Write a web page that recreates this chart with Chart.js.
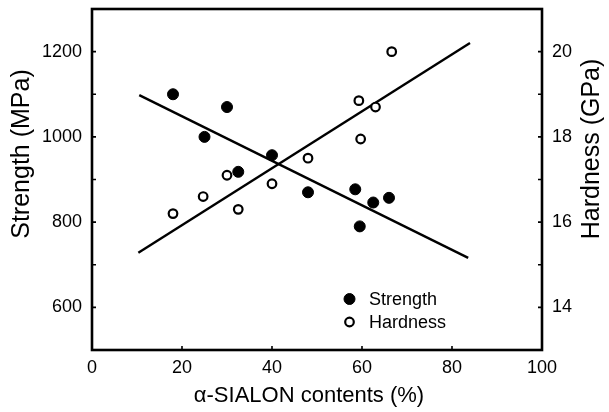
<!DOCTYPE html>
<html>
<head>
<meta charset="utf-8">
<script src="https://cdn.jsdelivr.net/npm/chart.js@4.4.1/dist/chart.umd.min.js"></script>
<style>
  html, body { margin: 0; padding: 0; background: #fff; }
  #wrap { width: 609px; height: 412px; }
</style>
</head>
<body>
<div id="wrap"><canvas id="c" width="609" height="412"></canvas></div>
<script>
// α-SIALON content (%) and measured properties
const strengthX = [18, 25, 30, 32.5, 40, 48, 58.5, 59.5, 62.5, 66];
const strengthY = [1100, 1000, 1070, 918, 957, 870, 877, 790, 846, 857];
const hardnessX = [18, 24.7, 30, 32.5, 40, 48, 59.3, 59.7, 63, 66.6];
const hardnessY = [16.2, 16.6, 17.1, 16.3, 16.9, 17.5, 18.85, 17.95, 18.7, 20.0];

// linear trend lines (end points)
const strengthFitX = [10.5, 83.6];
const strengthFitY = [1098, 716];
const hardnessFitX = [10.3, 84];
const hardnessFitY = [15.28, 20.2];

// axis ticks
const xTicks = [0, 20, 40, 60, 80, 100];
const strengthTicks = [600, 800, 1000, 1200];
const hardnessTicks = [14, 16, 18, 20];
const strengthMinorTicks = [600, 700, 800, 900, 1000, 1100, 1200];
const hardnessMinorTicks = [14, 15, 16, 17, 18, 19, 20];
const xInnerTicks = [20, 40, 60, 80];

const xTitle = 'α-SIALON contents (%)';
const yTitle = 'Strength (MPa)';
const y1Title = 'Hardness (GPa)';

const FONT = '"Liberation Sans", Arial, Helvetica, sans-serif';

const pts = (xs, ys) => xs.map((x, i) => ({ x, y: ys[i] }));
const plain = v => String(v);

// frame, inward tick marks, axis titles and legend
const decor = {
  id: 'decor',
  afterDraw(chart) {
    const { ctx, chartArea: a, scales } = chart;
    ctx.save();
    ctx.strokeStyle = '#000';
    ctx.lineWidth = 1.6;
    ctx.beginPath();
    strengthMinorTicks.forEach(v => {
      const y = scales.y.getPixelForValue(v);
      ctx.moveTo(a.left, y); ctx.lineTo(a.left + 4, y);
    });
    hardnessMinorTicks.forEach(v => {
      const y = scales.y1.getPixelForValue(v);
      ctx.moveTo(a.right, y); ctx.lineTo(a.right - 4, y);
    });
    xInnerTicks.forEach(v => {
      const x = scales.x.getPixelForValue(v);
      ctx.moveTo(x, a.bottom); ctx.lineTo(x, a.bottom - 4);
    });
    ctx.stroke();

    ctx.lineWidth = 2.6;
    ctx.strokeRect(a.left, a.top, a.right - a.left, a.bottom - a.top);

    // axis titles
    ctx.fillStyle = '#000';
    ctx.font = '22px ' + FONT;
    ctx.textAlign = 'center';
    ctx.textBaseline = 'alphabetic';
    ctx.fillText(xTitle, 309, 402);

    ctx.font = '25px ' + FONT;
    ctx.textBaseline = 'middle';
    ctx.save();
    ctx.translate(22, 154);
    ctx.rotate(-Math.PI / 2);
    ctx.fillText(yTitle, 0, 0);
    ctx.restore();
    ctx.save();
    ctx.translate(592, 149);
    ctx.rotate(-Math.PI / 2);
    ctx.fillText(y1Title, 0, 0);
    ctx.restore();

    // legend
    const ds = chart.data.datasets;
    ctx.font = '18px ' + FONT;
    ctx.textAlign = 'left';
    ctx.textBaseline = 'middle';
    const rows = [{ d: ds[0], y: 299 }, { d: ds[1], y: 322 }];
    rows.forEach(r => {
      ctx.beginPath();
      ctx.arc(349.5, r.y, r.d.pointRadius, 0, Math.PI * 2);
      ctx.fillStyle = r.d.backgroundColor;
      ctx.fill();
      ctx.lineWidth = r.d.borderWidth;
      ctx.strokeStyle = r.d.borderColor;
      ctx.stroke();
      ctx.fillStyle = '#000';
      ctx.fillText(r.d.label, 369, r.y + 1);
    });
    ctx.restore();
  }
};

new Chart(document.getElementById('c'), {
  type: 'scatter',
  data: {
    datasets: [
      {
        label: 'Strength',
        data: pts(strengthX, strengthY),
        yAxisID: 'y',
        pointRadius: 5.5,
        backgroundColor: '#000',
        borderColor: '#000',
        borderWidth: 1,
        order: 1
      },
      {
        label: 'Hardness',
        data: pts(hardnessX, hardnessY),
        yAxisID: 'y1',
        pointRadius: 4.3,
        backgroundColor: '#fff',
        borderColor: '#000',
        borderWidth: 2.2,
        order: 1
      },
      {
        label: 'Strength fit',
        type: 'line',
        data: pts(strengthFitX, strengthFitY),
        yAxisID: 'y',
        borderColor: '#000',
        borderWidth: 2.4,
        pointRadius: 0,
        fill: false,
        order: 2
      },
      {
        label: 'Hardness fit',
        type: 'line',
        data: pts(hardnessFitX, hardnessFitY),
        yAxisID: 'y1',
        borderColor: '#000',
        borderWidth: 2.4,
        pointRadius: 0,
        fill: false,
        order: 2
      }
    ]
  },
  options: {
    responsive: false,
    animation: false,
    devicePixelRatio: 1,
    layout: { padding: { top: 9, left: 0, right: 0, bottom: 0 } },
    plugins: { legend: { display: false }, tooltip: { enabled: false } },
    scales: {
      x: {
        type: 'linear',
        min: 0, max: 100,
        afterFit: s => { s.height = 62; s.paddingLeft = 0; s.paddingRight = 0; },
        afterBuildTicks: s => { s.ticks = xTicks.map(v => ({ value: v })); },
        grid: { display: false, drawTicks: false },
        border: { display: false },
        ticks: { color: '#000', padding: 7, callback: plain, font: { size: 18, family: FONT } }
      },
      y: {
        type: 'linear',
        position: 'left',
        min: 500, max: 1300,
        afterFit: s => { s.width = 92; s.paddingTop = 0; s.paddingBottom = 0; },
        afterBuildTicks: s => { s.ticks = strengthTicks.map(v => ({ value: v })); },
        grid: { display: false, drawTicks: false },
        border: { display: false },
        ticks: { color: '#000', padding: 10, callback: plain, font: { size: 18, family: FONT } }
      },
      y1: {
        type: 'linear',
        position: 'right',
        min: 13, max: 21,
        afterFit: s => { s.width = 67; s.paddingTop = 0; s.paddingBottom = 0; },
        afterBuildTicks: s => { s.ticks = hardnessTicks.map(v => ({ value: v })); },
        grid: { display: false, drawTicks: false },
        border: { display: false },
        ticks: { color: '#000', padding: 10, callback: plain, font: { size: 18, family: FONT } }
      }
    }
  },
  plugins: [decor]
});
</script>
</body>
</html>
